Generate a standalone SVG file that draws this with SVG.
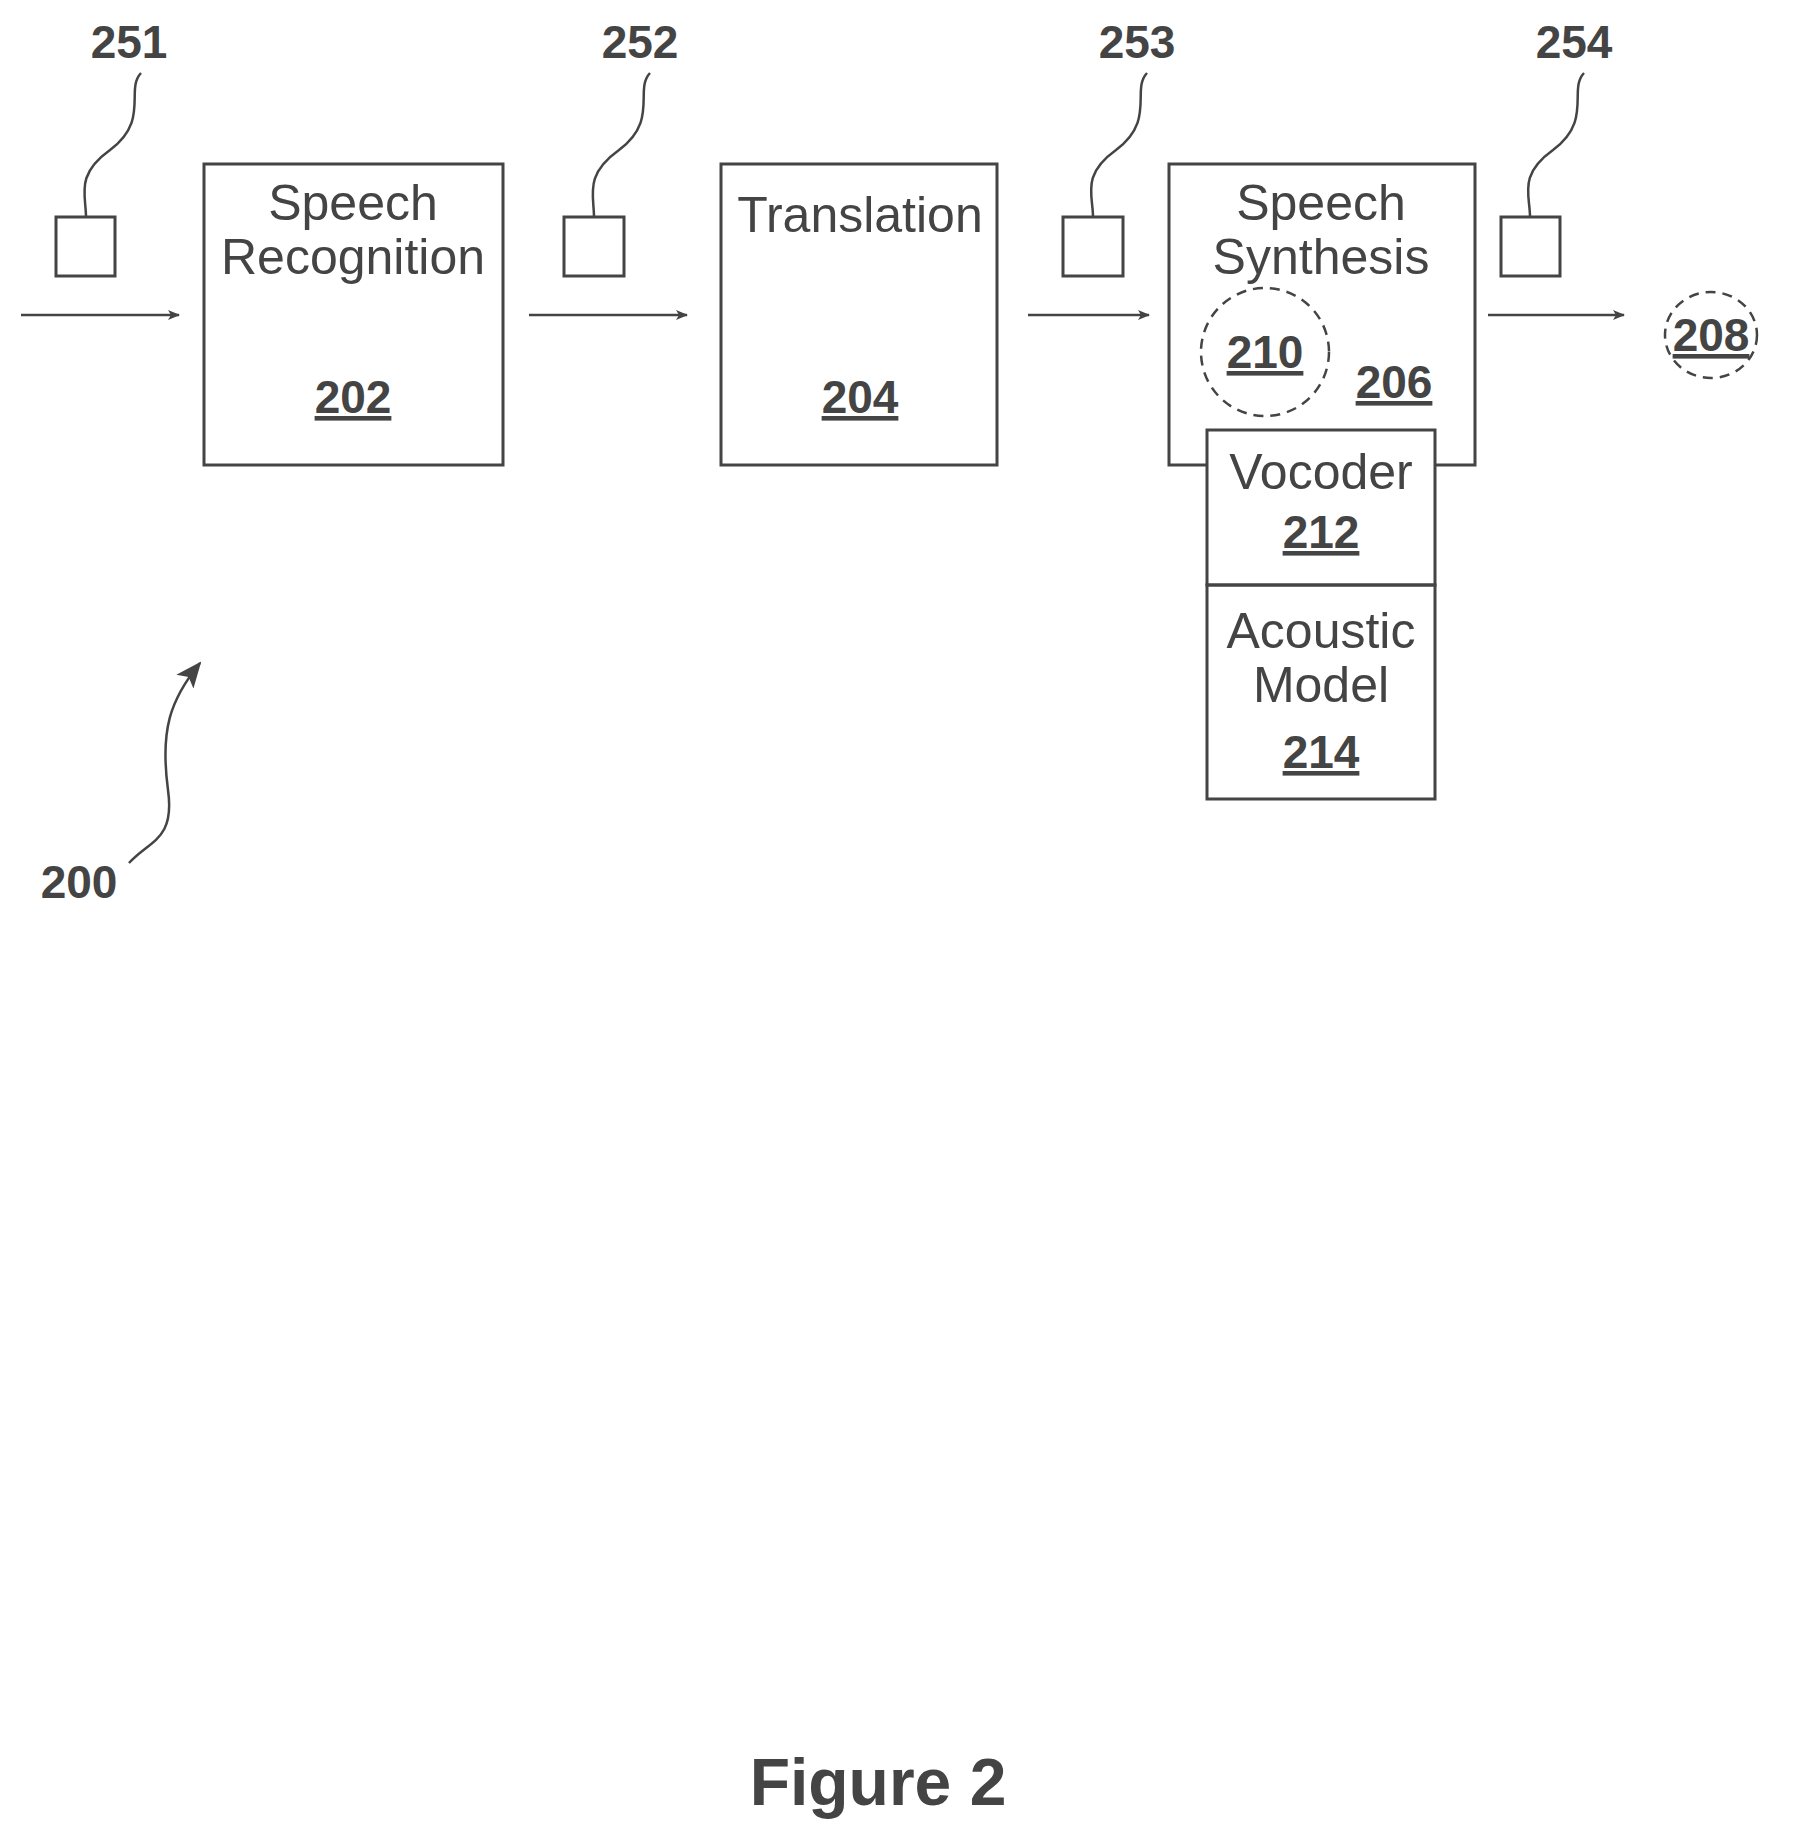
<svg xmlns="http://www.w3.org/2000/svg" width="1797" height="1843" viewBox="0 0 1797 1843">
<style>
.b{fill:none;stroke:#444;stroke-width:3}
.t{font-family:"Liberation Sans",Arial,sans-serif;font-size:50px;fill:#444;text-anchor:middle}
.n{font-family:"Liberation Sans",Arial,sans-serif;font-size:46px;font-weight:bold;fill:#444;text-anchor:middle}
.u{text-decoration:underline}
.c{fill:none;stroke:#444;stroke-width:2.5}
.d{fill:none;stroke:#444;stroke-width:2.5;stroke-dasharray:10 7}
</style>
<defs><marker id="a" markerWidth="12" markerHeight="10" refX="11" refY="5" orient="auto" markerUnits="userSpaceOnUse" viewBox="0 0 12 10"><path d="M0,0 L12,5 L0,10 L3,5 Z" fill="#444"/></marker>
<marker id="a2" markerWidth="26" markerHeight="22" refX="24" refY="11" orient="auto" markerUnits="userSpaceOnUse" viewBox="0 0 26 22"><path d="M0,0 L26,11 L0,22 L6,11 Z" fill="#444"/></marker></defs>
<rect width="1797" height="1843" fill="#fff"/>
<g id="connectors">
<line class="c" x1="21" y1="315" x2="179" y2="315" marker-end="url(#a)"/>
<line class="c" x1="529" y1="315" x2="687" y2="315" marker-end="url(#a)"/>
<line class="c" x1="1028" y1="315" x2="1149" y2="315" marker-end="url(#a)"/>
<line class="c" x1="1488" y1="315" x2="1624" y2="315" marker-end="url(#a)"/>
<path class="c" d="M141,73 C125,90 150,120 110,150 C75,175 86,195 86,217"/>
<path class="c" d="M650,73 C634,90 659,120 619,150 C584,175 594,195 594,217"/>
<path class="c" d="M1147,73 C1131,90 1156,120 1116,150 C1081,175 1093,195 1093,217"/>
<path class="c" d="M1584,73 C1568,90 1593,120 1553,150 C1518,175 1530,195 1530,217"/>
<path class="c" d="M129,863 C150,840 175,840 168,790 C160,730 170,700 200,663" marker-end="url(#a2)"/>
</g>
<g id="n251"><rect class="b" x="56" y="217" width="59" height="59"/><text class="n" x="129" y="58">251</text></g>
<g id="n252"><rect class="b" x="564" y="217" width="60" height="59"/><text class="n" x="640" y="58">252</text></g>
<g id="n253"><rect class="b" x="1063" y="217" width="60" height="59"/><text class="n" x="1137" y="58">253</text></g>
<g id="n254"><rect class="b" x="1501" y="217" width="59" height="59"/><text class="n" x="1574" y="58">254</text></g>
<g id="n202"><rect class="b" x="204" y="164" width="299" height="301"/><text class="t" x="353" y="220">Speech</text><text class="t" x="353" y="274">Recognition</text><text class="n u" x="353" y="413">202</text></g>
<g id="n204"><rect class="b" x="721" y="164" width="276" height="301"/><text class="t" x="860" y="232">Translation</text><text class="n u" x="860" y="413">204</text></g>
<g id="n206"><path class="b" d="M1207,465 H1169 V164 H1475 V465 H1435"/><text class="t" x="1321" y="220">Speech</text><text class="t" x="1321" y="274">Synthesis</text><text class="n u" x="1394" y="398">206</text></g>
<g id="n210"><circle class="d" cx="1265" cy="352" r="64"/><text class="n u" x="1265" y="368">210</text></g>
<g id="n212"><rect class="b" x="1207" y="430" width="228" height="155"/><text class="t" x="1321" y="489">Vocoder</text><text class="n u" x="1321" y="548">212</text></g>
<g id="n214"><rect class="b" x="1207" y="585" width="228" height="214"/><text class="t" x="1321" y="648">Acoustic</text><text class="t" x="1321" y="702">Model</text><text class="n u" x="1321" y="768">214</text></g>
<g id="n208"><ellipse class="d" cx="1711" cy="335" rx="46" ry="43"/><text class="n u" x="1711" y="351">208</text></g>
<g id="n200"><text class="n" x="79" y="898">200</text></g>
<text class="n" x="878" y="1805" style="font-size:66px">Figure 2</text>
</svg>
